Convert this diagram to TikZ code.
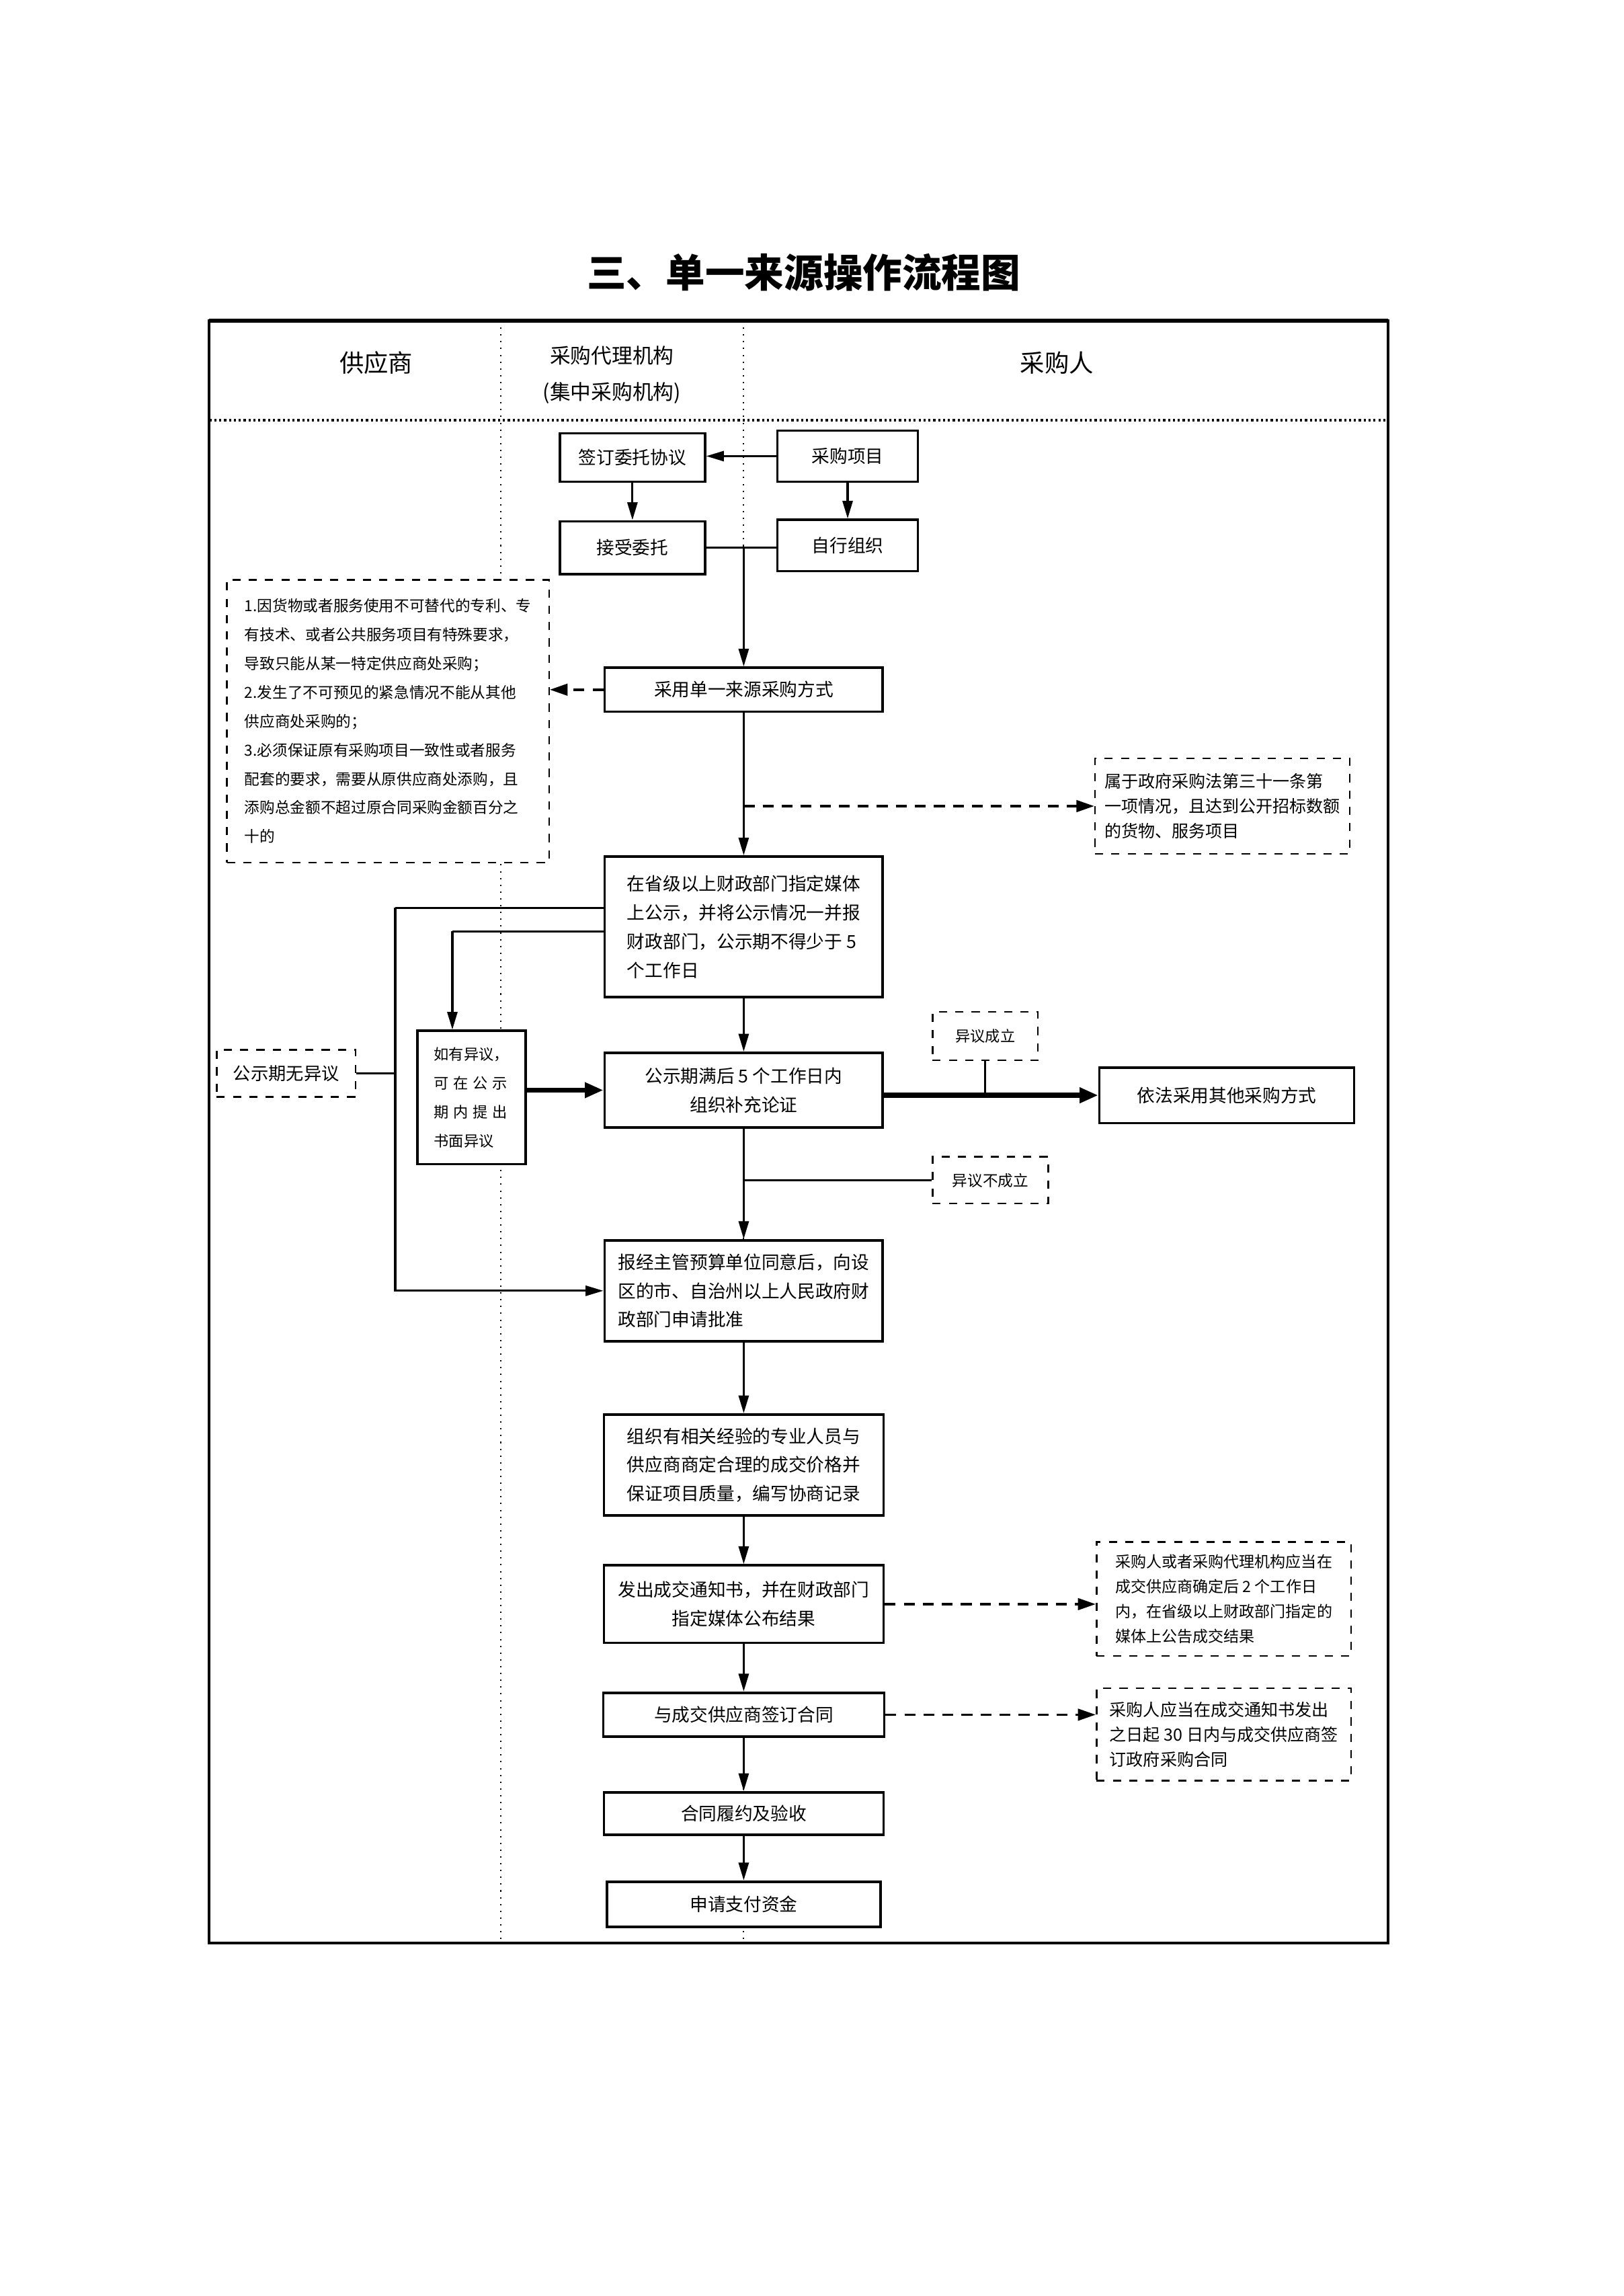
\documentclass[tikz,border=0pt]{standalone}
\usepackage{fontspec}
\setmainfont{Noto Sans CJK SC}
\usetikzlibrary{positioning,arrows.meta}
\newcommand{\pxu}{0.018936cm}
\tikzset{
  flowbox/.style={draw, line width=0.9pt, fill=white, align=center, inner sep=2pt,
    font=\fontsize{6.6}{10.6}\selectfont},
  notebox/.style={draw, dashed, line width=0.6pt, fill=white, align=left, inner sep=2pt,
    font=\fontsize{6.2}{9.2}\selectfont},
  boxsize/.style 2 args={minimum width=#1*\pxu, minimum height=#2*\pxu},
  flowline/.style={line width=0.8pt},
  flowarrow/.style={-{Triangle[length=2.3mm,width=1.3mm]}, line width=0.8pt},
  boldarrow/.style={-{Triangle[length=2.4mm,width=1.9mm]}, line width=1.8pt},
  notearrow/.style={-{Triangle[length=2.3mm,width=1.5mm]}, line width=0.9pt, dash pattern=on 4pt off 3pt},
}

\begin{document}
\begin{tikzpicture}[x=0.018936cm, y=-0.018936cm,
    lane/.style={font=\fontsize{9}{11}\selectfont, align=center},
    divider/.style={dotted, line width=0.5pt}]
  \useasboundingbox (0,0) rectangle (1109,1568);
  % 标题
  \node[font=\bfseries\fontsize{14.5}{16}\selectfont] (title) at (549,186) {三、单一来源操作流程图};
  % 外框与泳道
  \draw[divider] (342,219) -- (342,1327);
  \draw[divider] (508,219) -- (508,1327);
  \draw[line width=1pt] (143,219) rectangle (948,1327);
  \draw[line width=1.7pt] (143,219) -- (948,219);
  \draw[densely dotted, line width=0.8pt] (143,287) -- (948,287);
  \node[lane] (gys) at (257,248) {供应商};
  \node[lane, font=\fontsize{7.6}{13.5}\selectfont] (dljg) at (418,256) {采购代理机构\\(集中采购机构)};
  \node[lane] (cgr) at (722,248) {采购人};
  % 委托
  \node[flowbox, boxsize={99}{33}] (qd) at (432,312.5) {签订委托协议};
  \node[flowbox, boxsize={96}{35}] (xm) at (579,311.5) {采购项目};
  \node[flowbox, boxsize={99}{36}] (js) at (432,374) {接受委托};
  \node[flowbox, boxsize={96}{35}] (zx) at (579,372.5) {自行组织};
  \draw[flowarrow] (xm.west) -- (qd.east |- xm.west);
  \draw[flowarrow] (qd) -- (js);
  \draw[flowarrow] (xm) -- (zx);
  \draw[flowline] (js.east) -- (zx.west |- js.east);
  % 单一来源方式
  \node[flowbox, boxsize={190}{30}] (dy) at (508,471) {采用单一来源采购方式};
  \draw[flowarrow] (dy.north |- js.east) -- (dy.north);
  \node[notebox, boxsize={220}{193}, font=\fontsize{5.6}{10.6}\selectfont] (ly) at (265,492.5)
    {1.因货物或者服务使用不可替代的专利、专\\有技术、或者公共服务项目有特殊要求，\\导致只能从某一特定供应商处采购；\\2.发生了不可预见的紧急情况不能从其他\\供应商处采购的；\\3.必须保证原有采购项目一致性或者服务\\配套的要求，需要从原供应商处添购，且\\添购总金额不超过原合同采购金额百分之\\十的};
  \draw[notearrow] (dy.west) -- (ly.east |- dy.west);
  \node[notebox, boxsize={174}{65}] (fj) at (835,550.5)
    {属于政府采购法第三十一条第\\一项情况，且达到公开招标数额\\的货物、服务项目};
  % 公示
  \node[flowbox, boxsize={190}{96}, align=left] (gs) at (508,633)
    {在省级以上财政部门指定媒体\\上公示，并将公示情况一并报\\财政部门，公示期不得少于 5\\个工作日};
  \draw[flowarrow] (dy) -- (gs);
  \draw[notearrow] (dy.south |- fj.west) -- (fj.west);
  \node[flowbox, boxsize={74}{91}, align=left, font=\fontsize{5.5}{10.6}\selectfont] (yy) at (322,749.5)
    {如有异议，\\\makebox[27pt]{可\hfill 在\hfill 公\hfill 示}\\\makebox[27pt]{期\hfill 内\hfill 提\hfill 出}\\书面异议};
  \node[notebox, boxsize={95}{32}, font=\fontsize{6.5}{9}\selectfont] (wyy) at (195.5,733) {公示期无异议};
  \node[flowbox, boxsize={190}{51}] (bc) at (508,744.5) {公示期满后 5 个工作日内\\组织补充论证};
  \node[flowbox, boxsize={174}{38}] (qt) at (838,748) {依法采用其他采购方式};
  \node[notebox, boxsize={72}{33}, font=\fontsize{5.5}{8}\selectfont] (cl) at (673,707.5) {异议成立};
  \node[notebox, boxsize={79}{32}, font=\fontsize{5.6}{8}\selectfont] (bcl) at (676.5,806) {异议不成立};
  \coordinate (c1) at (270,620);
  \coordinate (c2) at (309,636);
  \draw[flowline] (gs.west |- c2) -- (c2);
  \draw[flowarrow] (c2) -- (c2 |- yy.north);
  \draw[flowarrow] (gs) -- (bc);
  \draw[boldarrow] (yy.east |- bc.west) -- (bc.west);
  \draw[boldarrow] (bc.east |- qt.west) -- (qt.west);
  \draw[flowline] (cl.south) -- (cl.south |- qt.west);
  \draw[flowline] (wyy.east) -- (wyy.east -| c1);
  % 批准与协商
  \node[flowbox, boxsize={190}{69}, align=left] (pz) at (508,881.5)
    {报经主管预算单位同意后，向设\\区的市、自治州以上人民政府财\\政部门申请批准};
  \draw[flowline] (gs.west |- c1) -- (c1);
  \draw[flowarrow] (c1) |- (pz.west);
  \draw[flowarrow] (bc) -- (pz);
  \draw[flowline] (bcl.west -| pz.north) -- (bcl.west);
  \node[flowbox, boxsize={191}{69}, align=left] (ss) at (508,1000.5)
    {组织有相关经验的专业人员与\\供应商商定合理的成交价格并\\保证项目质量，编写协商记录};
  \draw[flowarrow] (pz) -- (ss);
  % 成交与合同
  \node[flowbox, boxsize={191}{53}] (tz) at (508,1095.5) {发出成交通知书，并在财政部门\\指定媒体公布结果};
  \node[notebox, boxsize={174}{78}, font=\fontsize{5.7}{9.2}\selectfont] (zs) at (836,1092)
    {采购人或者采购代理机构应当在\\成交供应商确定后 2 个工作日\\内，在省级以上财政部门指定的\\媒体上公告成交结果};
  \draw[flowarrow] (ss) -- (tz);
  \draw[notearrow] (tz.east) -- (zs.west |- tz.east);
  \node[flowbox, boxsize={192}{30}] (qy) at (508,1171) {与成交供应商签订合同};
  \node[notebox, boxsize={174}{63}] (hn) at (836,1184.5)
    {采购人应当在成交通知书发出\\之日起 30 日内与成交供应商签\\订政府采购合同};
  \draw[flowarrow] (tz) -- (qy);
  \draw[notearrow] (qy.east) -- (hn.west |- qy.east);
  \node[flowbox, boxsize={191}{29}] (ys) at (508,1238.5) {合同履约及验收};
  \node[flowbox, boxsize={187}{31}] (zj) at (508,1300.5) {申请支付资金};
  \draw[flowarrow] (qy) -- (ys);
  \draw[flowarrow] (ys) -- (zj);
\end{tikzpicture}
\end{document}
